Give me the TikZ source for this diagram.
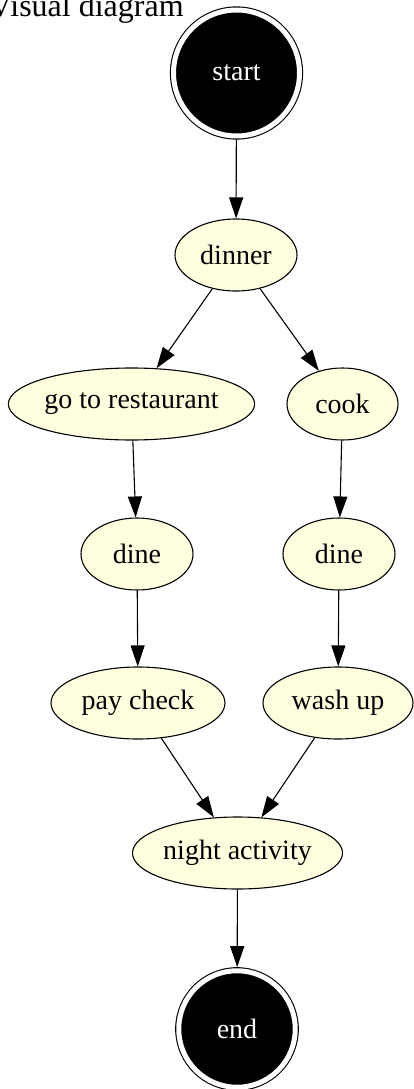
\documentclass[tikz,border=0pt]{standalone}
\usepackage{fontspec}
\setmainfont{Liberation Serif}
\usetikzlibrary{shapes.geometric,arrows.meta}
\definecolor{lightyellow}{RGB}{255,255,224}
\begin{document}
\begin{tikzpicture}[x=1pt, y=-1pt,
		activity/.style={ellipse, draw, line width=1.1pt, fill=lightyellow, minimum height=72pt, inner sep=0pt, font=\fontsize{28}{30}\selectfont},
		terminal/.style={circle, draw, fill=black, text=white, line width=1.1pt, double=white, double distance=5pt, inner sep=0pt, outer sep=3.6pt, font=\fontsize{28}{30}\selectfont},
		flow/.style={-{Triangle[length=21pt, width=14pt]}, line width=1.1pt}]
			\useasboundingbox (0, 0) rectangle (413, 1089);
			\node[anchor=base west, inner sep=0pt, font=\fontsize{32}{36}\selectfont] (title) at (-11, 16.5) {Visual diagram};
			
			\node[terminal, minimum size=126pt] (start) at (236.5, 73) {start};
			\node[activity, minimum width=122pt] (dinner) at (236, 255) {dinner};
			
			\node[activity, minimum width=233pt] (restaurant) at (131.5, 404) {go to restaurant};
			\node[activity, minimum width=112pt] (dineout) at (137, 554) {dine};
			\node[activity, minimum width=174pt] (pay) at (138, 703) {pay check};
			
			\node[activity, minimum width=111pt] (cook) at (342.5, 404) {cook};
			\node[activity, minimum width=112pt] (dinein) at (339, 554) {dine};
			\node[activity, minimum width=150pt] (wash) at (338, 703) {wash up};
			
			\node[activity, minimum width=207pt] (night) at (237.5, 853) {night activity};
			\node[terminal, minimum size=116.5pt] (end) at (237, 1029) {end};
			
			\draw[flow] (start) -- (dinner);
			\draw[flow] (dinner) -- (restaurant);
			\draw[flow] (dinner) -- (cook);
			\draw[flow] (restaurant) -- (dineout);
			\draw[flow] (dineout) -- (pay);
			\draw[flow] (cook) -- (dinein);
			\draw[flow] (dinein) -- (wash);
			\draw[flow] (pay) -- (night);
			\draw[flow] (wash) -- (night);
			\draw[flow] (night) -- (end);
		\end{tikzpicture}
\end{document}
